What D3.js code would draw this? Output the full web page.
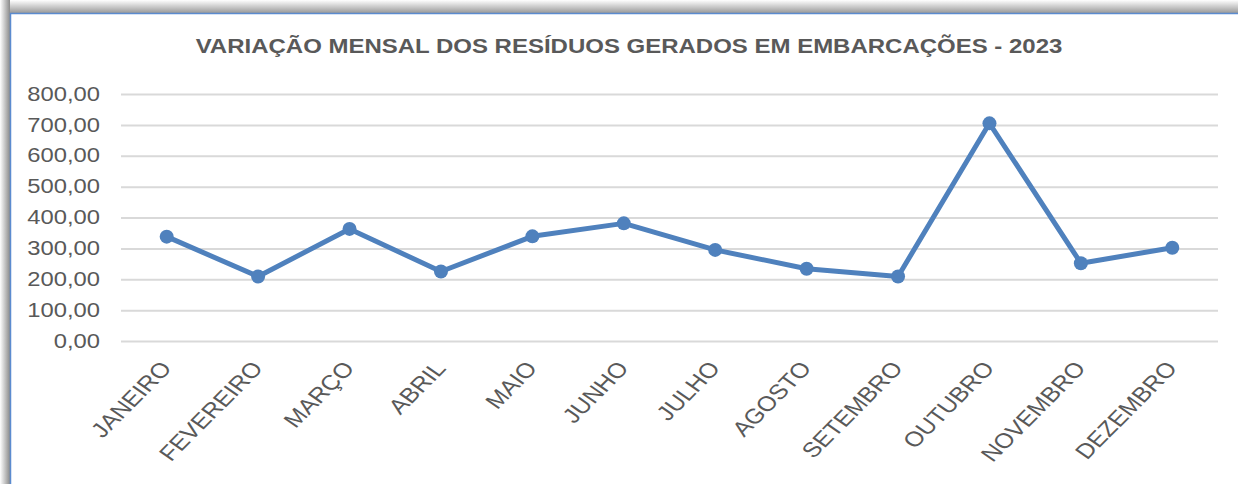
<!DOCTYPE html>
<html><head><meta charset="utf-8">
<script src="https://cdn.jsdelivr.net/npm/d3@7"></script>
<style>
html,body{margin:0;padding:0;background:#fff;overflow:hidden;}
svg{display:block;font-family:"Liberation Sans",Arial,sans-serif;}
</style></head>
<body>
<svg id="c" width="1238" height="484"></svg>
<script>
const months = ["JANEIRO","FEVEREIRO","MARÇO","ABRIL","MAIO","JUNHO","JULHO","AGOSTO","SETEMBRO","OUTUBRO","NOVEMBRO","DEZEMBRO"];
const values = [338, 209, 363, 225, 339, 381, 295, 234, 209, 705, 252, 302];
const yTicks = [0,100,200,300,400,500,600,700,800];
const title = "VARIAÇÃO MENSAL DOS RESÍDUOS GERADOS EM EMBARCAÇÕES - 2023";

const svg = d3.select("#c");
const defs = svg.append("defs");
const gT = defs.append("linearGradient").attr("id","shT").attr("x1",0).attr("y1",0).attr("x2",0).attr("y2",1);
gT.append("stop").attr("offset","0").attr("stop-color","#ffffff");
gT.append("stop").attr("offset","1").attr("stop-color","#9a9a9a");
const gL = defs.append("linearGradient").attr("id","shL").attr("x1",0).attr("y1",0).attr("x2",1).attr("y2",0);
gL.append("stop").attr("offset","0").attr("stop-color","#ffffff");
gL.append("stop").attr("offset","1").attr("stop-color","#8a8a8a");

// shadow frame
svg.append("rect").attr("x",0).attr("y",0).attr("width",1238).attr("height",13).attr("fill","url(#shT)");
svg.append("rect").attr("x",0).attr("y",0).attr("width",10).attr("height",484).attr("fill","url(#shL)");
svg.append("rect").attr("x",10.5).attr("y",13.5).attr("width",1240).attr("height",480)
  .attr("fill","#fff").attr("stroke","#5b8bcf").attr("stroke-width",1.5);

const x = d3.scaleBand().domain(months).range([121,1218]);
const y = d3.scaleLinear().domain([0,800]).range([341,94]);
const SX = 1.2;

svg.append("text").attr("transform","translate(629,53) scale(" + SX + ",1)").attr("text-anchor","middle")
  .attr("font-size",20).attr("font-weight","bold").attr("fill","#595959").text(title);

// gridlines + y labels
const gy = svg.append("g").attr("transform","translate(121,0)")
  .call(d3.axisLeft(y).tickValues(yTicks).tickSize(-1097).tickFormat(d => d3.format(".2f")(d).replace(".",",")));
gy.select(".domain").remove();
gy.selectAll(".tick line").attr("stroke","#d9d9d9").attr("stroke-width",2);
gy.selectAll(".tick text").attr("x",0).attr("transform","translate(-21,0) scale(1.22,1)")
  .attr("font-size",19.5).attr("fill","#595959")
  .attr("font-family","'Liberation Sans',Arial,sans-serif");

// x axis
const gx = svg.append("g").attr("transform","translate(0,341)")
  .call(d3.axisBottom(x).tickSize(0));
gx.select(".domain").remove();
gx.selectAll(".tick text").attr("font-size",21).attr("fill","#595959")
  .attr("font-family","'Liberation Sans',Arial,sans-serif")
  .attr("text-anchor","end").attr("dy",0).attr("y",0).attr("x",0)
  .attr("transform","translate(6,28) scale(" + SX + ",1) rotate(-50.2)");

const line = d3.line().x((d,i)=>x(months[i])+x.bandwidth()/2).y(d=>y(d));
svg.append("path").datum(values).attr("d",line).attr("fill","none")
  .attr("stroke","#4f81bd").attr("stroke-width",5).attr("stroke-linejoin","round");
svg.selectAll("circle.pt").data(values).join("circle").attr("class","pt")
  .attr("cx",(d,i)=>x(months[i])+x.bandwidth()/2).attr("cy",d=>y(d)).attr("r",7).attr("fill","#4f81bd");
</script>
</body></html>
